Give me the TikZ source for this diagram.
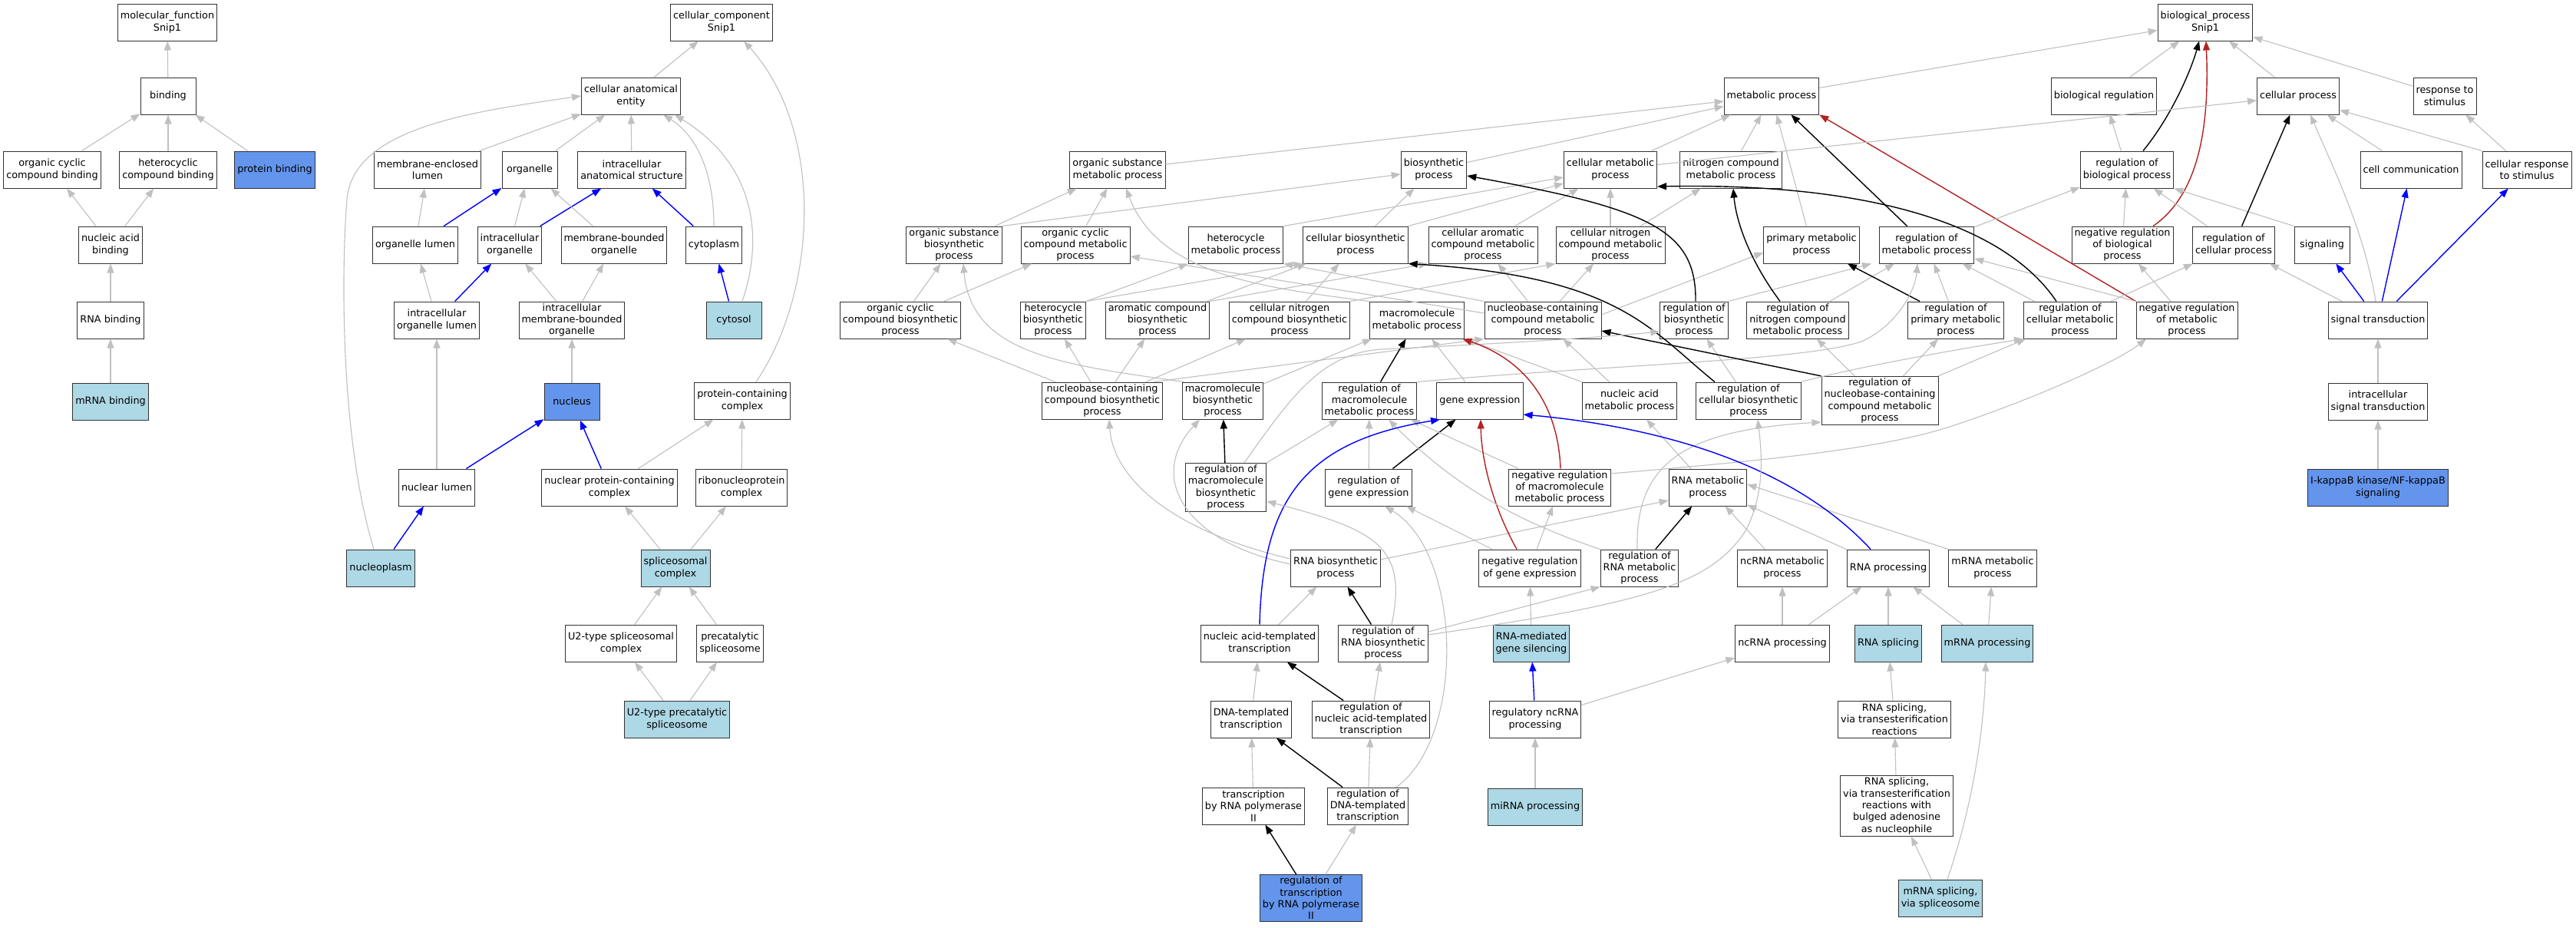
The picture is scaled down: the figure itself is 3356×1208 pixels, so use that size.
\documentclass[tikz,border=0pt]{standalone}
\usepackage{fontspec}
\setmainfont{DejaVu Sans}
\usetikzlibrary{arrows.meta}
\definecolor{isagray}{HTML}{C0C0C0}
\definecolor{hitblue}{HTML}{6495ED}
\definecolor{subblue}{HTML}{ADD8E6}
\definecolor{negred}{HTML}{B22222}

\begin{document}
\begin{tikzpicture}[x=1pt,y=-1pt,
        term/.style={draw=black!80,line width=1pt,fill=white,align=center,
                minimum width=72pt,minimum height=48pt,inner xsep=3.5pt,inner ysep=2.5pt,
                font=\fontsize{12.8}{15.3}\selectfont},
        hit/.style={term,fill=hitblue},
        sub/.style={term,fill=subblue},
        isa/.style={draw=isagray,line width=1.1pt,-{Triangle[length=12pt,width=9pt]}},
        partof/.style={draw=blue,line width=1.4pt,-{Triangle[length=12pt,width=9pt]}},
        regs/.style={draw=black,line width=1.4pt,-{Triangle[length=12pt,width=9pt]}},
        negregs/.style={draw=negred,line width=1.4pt,-{Triangle[length=12pt,width=9pt]}}]
        \fill[white] (0,0) rectangle (3356,1208);
        \useasboundingbox (0,0) rectangle (3356,1208);

        % molecular function
        \node[term] (mf) at (218,29) {molecular\_function\\Snip1};
        \node[term] (binding) at (219,125) {binding};
        \node[term] (occb) at (68,221) {organic cyclic\\compound binding};
        \node[term] (hcb) at (219,221) {heterocyclic\\compound binding};
        \node[hit] (protbind) at (358,221) {protein binding};
        \node[term] (nab) at (144,319) {nucleic acid\\binding};
        \node[term] (rnab) at (144,417) {RNA binding};
        \node[sub] (mrnab) at (144,523) {mRNA binding};

        \draw[isa] (binding) -- (mf);
        \draw[isa] (occb) -- (binding);
        \draw[isa] (hcb) -- (binding);
        \draw[isa] (protbind) -- (binding);
        \draw[isa] (nab) -- (occb);
        \draw[isa] (nab) -- (hcb);
        \draw[isa] (rnab) -- (nab);
        \draw[isa] (mrnab) -- (rnab);

        % cellular component
        \node[term] (cc) at (940,29) {cellular\_component\\Snip1};
        \node[term] (cae) at (822,125) {cellular anatomical\\entity};
        \node[term] (mel) at (557,221) {membrane-enclosed\\lumen};
        \node[term] (organelle) at (690,221) {organelle};
        \node[term] (ias) at (823,221) {intracellular\\anatomical structure};
        \node[term] (orglumen) at (541,319) {organelle lumen};
        \node[term] (intorg) at (664,319) {intracellular\\organelle};
        \node[term] (mbo) at (800,319) {membrane-bounded\\organelle};
        \node[term] (cytoplasm) at (930,319) {cytoplasm};
        \node[term] (iol) at (569,417) {intracellular\\organelle lumen};
        \node[term] (imbo) at (745,417) {intracellular\\membrane-bounded\\organelle};
        \node[sub] (cytosol) at (956,417) {cytosol};
        \node[hit] (nucleus) at (745,523) {nucleus};
        \node[term] (pcc) at (967,522) {protein-containing\\complex};
        \node[term] (nuclumen) at (569,635) {nuclear lumen};
        \node[term] (npcc) at (794,635) {nuclear protein-containing\\complex};
        \node[term] (rnp) at (966,635) {ribonucleoprotein\\complex};
        \node[sub] (nucleoplasm) at (496,740) {nucleoplasm};
        \node[sub] (splcx) at (880,740) {spliceosomal\\complex};
        \node[term] (u2cx) at (809,838) {U2-type spliceosomal\\complex};
        \node[term] (precat) at (951,838) {precatalytic\\spliceosome};
        \node[sub] (u2precat) at (882,937) {U2-type precatalytic\\spliceosome};

        \draw[isa] (cae) -- (cc);
        \draw[isa] (mel) -- (cae);
        \draw[isa] (organelle) -- (cae);
        \draw[isa] (ias) -- (cae);
        \draw[isa] (cytoplasm.north) .. controls (930,220) and (905,175) .. ([xshift=42pt]cae.south);
        \draw[isa] ([xshift=11pt]cytosol.north) .. controls (995,310) and (985,215) .. ([xshift=57pt]cae.south);
        \draw[isa] ([xshift=-9pt]nucleoplasm.north) .. controls (440,560) and (446,330) .. (452,260)
                .. controls (460,165) and (620,145) .. (cae.west);
        \draw[isa] (orglumen) -- (mel);
        \draw[partof] (orglumen) -- (organelle);
        \draw[isa] (intorg) -- (organelle);
        \draw[partof] (intorg) -- (ias);
        \draw[isa] (mbo) -- (organelle);
        \draw[partof] (cytoplasm) -- (ias);
        \draw[isa] (iol) -- (orglumen);
        \draw[partof] (iol) -- (intorg);
        \draw[isa] (imbo) -- (intorg);
        \draw[isa] (imbo) -- (mbo);
        \draw[partof] (cytosol) -- (cytoplasm);
        \draw[isa] (nucleus) -- (imbo);
        \draw[isa] (nuclumen) -- (iol);
        \draw[partof] (nuclumen) -- (nucleus);
        \draw[partof] (npcc) -- (nucleus);
        \draw[isa] (npcc) -- (pcc);
        \draw[isa] (rnp) -- (pcc);
        \draw[isa] ([xshift=18pt]pcc.north) .. controls (1065,380) and (1075,170) .. ([xshift=29pt]cc.south);
        \draw[partof] (nucleoplasm) -- (nuclumen);
        \draw[isa] (splcx) -- (npcc);
        \draw[isa] (splcx) -- (rnp);
        \draw[isa] (u2cx) -- (splcx);
        \draw[isa] (precat) -- (splcx);
        \draw[isa] (u2precat) -- (u2cx);
        \draw[isa] (u2precat) -- (precat);

        % biological process
        \node[term] (bp) at (2873,29) {biological\_process\\Snip1};
        \node[term] (metab) at (2308,125) {metabolic process};
        \node[term] (bioreg) at (2741,125) {biological regulation};
        \node[term] (cellproc) at (2994,125) {cellular process};
        \node[term] (resp) at (3185,125) {response to\\stimulus};
        \node[term] (osmp) at (1456,221) {organic substance\\metabolic process};
        \node[term] (biosyn) at (1868,221) {biosynthetic\\process};
        \node[term] (cellmet) at (2098,221) {cellular metabolic\\process};
        \node[term] (ncmp) at (2255,221) {nitrogen compound\\metabolic process};
        \node[term] (regbio) at (2771,221) {regulation of\\biological process};
        \node[term] (cellcomm) at (3141,221) {cell communication};
        \node[term] (cellresp) at (3292,221) {cellular response\\to stimulus};
        \node[term] (osbp) at (1243,319) {organic substance\\biosynthetic\\process};
        \node[term] (occmp) at (1401,319) {organic cyclic\\compound metabolic\\process};
        \node[term] (hetmp) at (1610,319) {heterocycle\\metabolic process};
        \node[term] (cellbio) at (1766,319) {cellular biosynthetic\\process};
        \node[term] (camp) at (1932,319) {cellular aromatic\\compound metabolic\\process};
        \node[term] (cncmp) at (2098,319) {cellular nitrogen\\compound metabolic\\process};
        \node[term] (primmp) at (2360,319) {primary metabolic\\process};
        \node[term] (regmet) at (2510,319) {regulation of\\metabolic process};
        \node[term] (negregbio) at (2765,319) {negative regulation\\of biological\\process};
        \node[term] (regcell) at (2910,319) {regulation of\\cellular process};
        \node[term] (signaling) at (3025,319) {signaling};
        \node[term] (occbp) at (1173,417) {organic cyclic\\compound biosynthetic\\process};
        \node[term] (hetbp) at (1372,417) {heterocycle\\biosynthetic\\process};
        \node[term] (acbp) at (1508,417) {aromatic compound\\biosynthetic\\process};
        \node[term] (cncbp) at (1680,417) {cellular nitrogen\\compound biosynthetic\\process};
        \node[term] (mmp) at (1846,417) {macromolecule\\metabolic process};
        \node[term] (nccmp) at (2010,417) {nucleobase-containing\\compound metabolic\\process};
        \node[term] (regbiosyn) at (2207,417) {regulation of\\biosynthetic\\process};
        \node[term] (regncmp) at (2342,417) {regulation of\\nitrogen compound\\metabolic process};
        \node[term] (regprim) at (2548,417) {regulation of\\primary metabolic\\process};
        \node[term] (regcellmet) at (2697,417) {regulation of\\cellular metabolic\\process};
        \node[term] (negregmet) at (2849,417) {negative regulation\\of metabolic\\process};
        \node[term] (sigtrans) at (3098,417) {signal transduction};
        \node[term] (nccbp) at (1436,522) {nucleobase-containing\\compound biosynthetic\\process};
        \node[term] (mbp) at (1593,522) {macromolecule\\biosynthetic\\process};
        \node[term] (regmmp) at (1784,522) {regulation of\\macromolecule\\metabolic process};
        \node[term] (geneexp) at (1928,522) {gene expression};
        \node[term] (namp) at (2123,522) {nucleic acid\\metabolic process};
        \node[term] (regcellbio) at (2278,522) {regulation of\\cellular biosynthetic\\process};
        \node[term] (regnccmp) at (2449,522) {regulation of\\nucleobase-containing\\compound metabolic\\process};
        \node[term] (intsig) at (3098,523) {intracellular\\signal transduction};
        \node[term] (regmbp) at (1597,635) {regulation of\\macromolecule\\biosynthetic\\process};
        \node[term] (reggene) at (1783,635) {regulation of\\gene expression};
        \node[term] (negregmmp) at (2032,635) {negative regulation\\of macromolecule\\metabolic process};
        \node[term] (rnamp) at (2225,635) {RNA metabolic\\process};
        \node[hit] (ikb) at (3098,635) {I-kappaB kinase/NF-kappaB\\signaling};
        \node[term] (rnabp) at (1740,740) {RNA biosynthetic\\process};
        \node[term] (negreggene) at (1993,740) {negative regulation\\of gene expression};
        \node[term] (regrnamp) at (2136,740) {regulation of\\RNA metabolic\\process};
        \node[term] (ncrnamp) at (2322,740) {ncRNA metabolic\\process};
        \node[term] (rnaproc) at (2460,740) {RNA processing};
        \node[term] (mrnamp) at (2596,740) {mRNA metabolic\\process};
        \node[term] (natt) at (1641,838) {nucleic acid-templated\\transcription};
        \node[term] (regrnabp) at (1802,838) {regulation of\\RNA biosynthetic\\process};
        \node[sub] (rnasil) at (1995,838) {RNA-mediated\\gene silencing};
        \node[term] (ncrnaproc) at (2322,838) {ncRNA processing};
        \node[sub] (rnasplice) at (2460,838) {RNA splicing};
        \node[sub] (mrnaproc) at (2589,838) {mRNA processing};
        \node[term] (dtt) at (1630,937) {DNA-templated\\transcription};
        \node[term] (regnatt) at (1786,937) {regulation of\\nucleic acid-templated\\transcription};
        \node[term] (regncrna) at (2000,937) {regulatory ncRNA\\processing};
        \node[term] (rnasplte) at (2468,937) {RNA splicing,\\via transesterification\\reactions};
        \node[term] (trpol) at (1633,1050) {transcription\\by RNA polymerase\\II};
        \node[term] (regdtt) at (1782,1050) {regulation of\\DNA-templated\\transcription};
        \node[sub] (mirna) at (2000,1051) {miRNA processing};
        \node[term] (rnasplbulge) at (2471,1050) {RNA splicing,\\via transesterification\\reactions with\\bulged adenosine\\as nucleophile};
        \node[hit] (regtrpol) at (1708,1170) {regulation of\\transcription\\by RNA polymerase\\II};
        \node[sub] (mrnaspl) at (2528,1170) {mRNA splicing,\\via spliceosome};

        \draw[isa] (metab) -- (bp);
        \draw[isa] (bioreg) -- (bp);
        \draw[isa] (cellproc) -- (bp);
        \draw[isa] (resp) -- (bp);
        \draw[regs] ([xshift=21pt]regbio.north) .. controls (2830,150) and (2855,90) .. ([xshift=-8pt]bp.south);
        \draw[negregs] ([xshift=40pt]negregbio.north) .. controls (2870,250) and (2878,150) .. ([xshift=1pt]bp.south);
        \draw[isa] (regbio) -- (bioreg);
        \draw[isa] (negregbio) -- (regbio);
        \draw[isa] (regcell) -- (regbio);
        \draw[isa] (signaling.north west) -- (regbio.south east);
        \draw[regs] (regcell) -- (cellproc);
        \draw[isa] (cellcomm) -- (cellproc);
        \draw[isa] (cellresp.north west) -- ([yshift=6pt]cellproc.south east);
        \draw[isa] (cellresp) -- (resp);
        \draw[isa] (sigtrans) -- (regcell);
        \draw[isa] ([xshift=-3pt]sigtrans.north) .. controls (3080,300) and (3040,220) .. ([xshift=16pt]cellproc.south);
        \draw[partof] (sigtrans) -- (signaling);
        \draw[partof] (sigtrans) -- (cellcomm);
        \draw[partof] (sigtrans) -- (cellresp);
        \draw[isa] (intsig) -- (sigtrans);
        \draw[isa] (ikb) -- (intsig);

        \draw[isa] (osmp) -- (metab);
        \draw[isa] (biosyn) -- (metab);
        \draw[isa] (cellmet) -- (metab);
        \draw[isa] (ncmp) -- (metab);
        \draw[isa] (primmp) -- (metab);
        \draw[regs] (regmet) -- (metab);
        \draw[negregs] (negregmet.north west) -- (metab.south east);
        \draw[isa] (cellmet) -- (cellproc);
        \draw[isa] (regmet) -- (regbio);
        \draw[isa] (negregmet.north west) -- ([yshift=-18pt]regmet.east);
        \draw[isa] (negregmet) -- (negregbio);
        \draw[isa] (osbp) -- (osmp);
        \draw[isa] (osbp.north east) -- ([yshift=-6pt]biosyn.west);
        \draw[isa] (occmp) -- (osmp);
        \draw[isa] (hetmp.north east) -- ([yshift=-10pt]cellmet.west);
        \draw[isa] (cellbio) -- (biosyn);
        \draw[isa] (cellbio.north east) -- ([yshift=-18pt]cellmet.west);
        \draw[isa] (camp) -- (cellmet);
        \draw[isa] (cncmp) -- (cellmet);
        \draw[isa] (cncmp) -- (ncmp);
        \draw[isa] (occbp) -- (osbp);
        \draw[isa] (occbp) -- (occmp);
        \draw[isa] (hetbp.north east) -- (hetmp.south west);
        \draw[isa] (hetbp.north east) -- (cellbio.south west);
        \draw[isa] (acbp.north east) -- (camp.south west);
        \draw[isa] (acbp) -- (cellbio);
        \draw[isa] (cncbp) -- (cellbio);
        \draw[isa] (cncbp.north east) -- (cncmp.south west);
        \draw[isa] (mmp.north west) .. controls (1650,375) and (1510,360) .. ([xshift=11pt]osmp.south);
        \draw[isa] (nccmp) -- (camp);
        \draw[isa] (nccmp) -- (cncmp);
        \draw[isa] (nccmp.north west) -- (hetmp.south east);
        \draw[isa] ([yshift=9pt]nccmp.west) -- ([yshift=-15pt]occmp.east);
        \draw[isa] ([yshift=7pt]nccmp.east) -- ([yshift=-10pt]primmp.west);
        \draw[regs] ([xshift=2pt]regbiosyn.north) .. controls (2210,300) and (2150,272) .. ([yshift=-8pt]biosyn.east);
        \draw[isa] (regbiosyn.north east) -- ([xshift=-72pt]regmet.south);
        \draw[regs] ([xshift=-23pt]regncmp.north) .. controls (2280,340) and (2262,290) .. ([xshift=3pt]ncmp.south);
        \draw[isa] (regncmp) -- (regmet);
        \draw[regs] (regprim) -- (primmp);
        \draw[isa] (regprim) -- (regmet);
        \draw[regs] ([xshift=-18pt]regcellmet.north) .. controls (2610,290) and (2430,238) .. ([yshift=-22pt]cellmet.east);
        \draw[isa] (regcellmet) -- (regmet);
        \draw[isa] (regcellmet) -- (regcell);

        \draw[isa] (nccbp) -- (occbp);
        \draw[isa] (nccbp) -- (hetbp);
        \draw[isa] (nccbp) -- (acbp);
        \draw[isa] (nccbp) -- (cncbp);
        \draw[isa] ([xshift=67pt]nccbp.north) -- (nccmp.south west);
        \draw[isa] ([xshift=-50pt]mbp.north) .. controls (1380,475) and (1265,460) .. ([xshift=12pt]osbp.south);
        \draw[isa] (mbp) -- (mmp);
        \draw[regs] (regmmp) -- (mmp);
        \draw[isa] (regmmp.north east) .. controls (2100,475) and (2350,470) .. (2425,445)
                .. controls (2470,425) and (2495,380) .. ([xshift=-12pt]regmet.south);
        \draw[isa] (geneexp) -- (mmp);
        \draw[isa] (namp) -- (nccmp);
        \draw[isa] (namp.north west) -- (mmp.south east);
        \draw[regs] ([xshift=-44pt]regcellbio.north) .. controls (2150,430) and (2110,360) .. (cellbio.south east);
        \draw[isa] (regcellbio) -- (regbiosyn);
        \draw[isa] (regcellbio.north east) .. controls (2420,478) and (2550,455) .. (regcellmet.south west);
        \draw[regs] (regnccmp.north west) -- ([yshift=-14pt]nccmp.east);
        \draw[isa] (regnccmp) -- (regncmp);
        \draw[isa] (regnccmp) -- (regprim);
        \draw[isa] (regnccmp) -- (regcellmet);

        \draw[regs] (regmbp) -- (mbp);
        \draw[isa] (regmbp) -- (regmmp);
        \draw[isa] ([xshift=24pt]regmbp.north) .. controls (1680,520) and (1720,460) .. (1800,455)
                .. controls (1950,448) and (2080,440) .. ([yshift=-15pt]regbiosyn.west);
        \draw[isa] (reggene) -- (regmmp);
        \draw[regs] (reggene) -- (geneexp);
        \draw[isa] (negregmmp) -- (regmmp);
        \draw[isa] ([yshift=18pt]negregmmp.east) .. controls (2300,600) and (2450,585) .. (2540,556)
                .. controls (2650,520) and (2760,470) .. ([xshift=-53pt]negregmet.south);
        \draw[negregs] ([xshift=1pt]negregmmp.north) .. controls (2030,530) and (1990,470) .. ([xshift=-3pt]mmp.south east);
        \draw[isa] (rnamp) -- (namp);

        \draw[isa] ([yshift=12pt]rnabp.west) .. controls (1520,690) and (1450,620) .. ([xshift=9pt]nccbp.south);
        \draw[isa] ([yshift=5pt]rnabp.west) .. controls (1540,705) and (1495,620) .. ([xshift=-30pt]mbp.south);
        \draw[isa] ([yshift=11pt]rnabp.east) -- ([yshift=-17pt]rnamp.west);
        \draw[isa] (negreggene) -- (reggene);
        \draw[isa] (negreggene) -- (negregmmp);
        \draw[negregs] ([xshift=-17pt]negreggene.north) .. controls (1945,660) and (1930,600) .. ([xshift=1pt]geneexp.south);
        \draw[regs] (regrnamp) -- (rnamp);
        \draw[isa] (regrnamp.north west) .. controls (1990,684) and (1900,640) .. ([xshift=25pt]regmmp.south);
        \draw[isa] ([xshift=-3pt]regrnamp.north) .. controls (2130,600) and (2200,560) .. ([yshift=-28pt]regnccmp.west);
        \draw[isa] (ncrnamp) -- (rnamp);
        \draw[isa] (rnaproc) -- (rnamp);
        \draw[isa] (mrnamp.north west) -- ([yshift=4pt]rnamp.east);
        \draw[partof] ([xshift=-23pt]rnaproc.north) .. controls (2330,600) and (2150,555) .. ([yshift=-18pt]geneexp.east);

        \draw[isa] (natt) -- (rnabp);
        \draw[partof] (natt.north) .. controls (1645,650) and (1700,575) .. ([xshift=-52pt]geneexp.south);
        \draw[regs] (regrnabp) -- (rnabp);
        \draw[isa] ([xshift=11pt]regrnabp.north) .. controls (1835,710) and (1790,690) .. ([yshift=-18pt]regmbp.east);
        \draw[isa] ([yshift=15pt]regrnabp.east) -- (regrnamp.south west);
        \draw[isa] ([yshift=11pt]regrnabp.east) .. controls (2150,785) and (2230,760) .. (2275,690)
                .. controls (2300,640) and (2295,590) .. ([xshift=12pt]regcellbio.south);
        \draw[isa] (rnasil) -- (negreggene);
        \draw[isa] (ncrnaproc) -- (ncrnamp);
        \draw[isa] (ncrnaproc) -- (rnaproc);
        \draw[isa] (rnasplice) -- (rnaproc);
        \draw[isa] (mrnaproc) -- (rnaproc);
        \draw[isa] (mrnaproc) -- (mrnamp);

        \draw[isa] (dtt) -- (natt);
        \draw[regs] (regnatt) -- (natt);
        \draw[isa] (regnatt) -- (regrnabp);
        \draw[partof] (regncrna) -- (rnasil);
        \draw[isa] (regncrna) -- (ncrnaproc);
        \draw[isa] (rnasplte) -- (rnasplice);
        \draw[isa] (trpol) -- (dtt);
        \draw[regs] (regdtt) -- (dtt);
        \draw[isa] (regdtt) -- (regnatt);
        \draw[isa] ([xshift=37pt]regdtt.north) .. controls (1910,960) and (1905,720) .. ([xshift=21pt]reggene.south);
        \draw[isa] (mirna) -- (regncrna);
        \draw[isa] (rnasplbulge) -- (rnasplte);
        \draw[regs] (regtrpol) -- (trpol);
        \draw[isa] (regtrpol) -- (regdtt);
        \draw[isa] (mrnaspl) -- (rnasplbulge);
        \draw[isa] ([xshift=9pt]mrnaspl.north) .. controls (2570,1050) and (2585,950) .. ([xshift=-2pt]mrnaproc.south);
\end{tikzpicture}
\end{document}
